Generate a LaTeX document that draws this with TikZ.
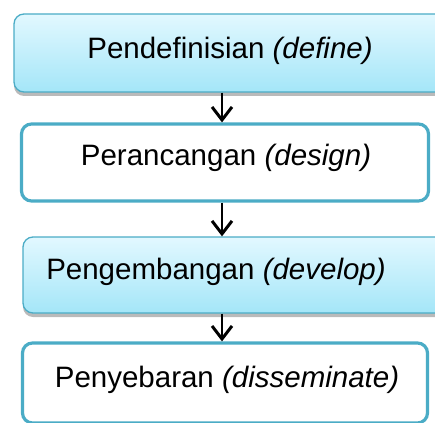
\documentclass[tikz,border=0pt]{standalone}
\usepackage{fontspec}
\setmainfont{Liberation Sans}
\usetikzlibrary{arrows.meta,shadows}
\definecolor{bord}{HTML}{4BACC6}
\definecolor{gtop}{HTML}{E2F8FF}
\definecolor{gbot}{HTML}{A4E6F8}
\tikzset{
  gradbox/.style={draw=bord, line width=1.3pt, rounded corners=10pt,
    top color=gtop, bottom color=gbot,
    drop shadow={shadow xshift=0pt, shadow yshift=-4pt, opacity=0.45, fill=black!60},
    inner sep=0pt},
  whitebox/.style={draw=bord, line width=3.2pt, rounded corners=10pt, fill=white, inner sep=0pt},
  lbl/.style={font=\fontsize{29.5}{34}\selectfont, inner sep=0pt},
  conn/.style={line width=2.4pt, -{Straight Barb[length=13pt,width=20pt,line width=3pt]}}
}
\begin{document}
\begin{tikzpicture}[x=1pt,y=-1pt]
\useasboundingbox (0,0) rectangle (435,422);
\node[gradbox, minimum width=440pt, minimum height=78pt] (b1) at (234,53) {};
\node[whitebox, minimum width=407pt, minimum height=77pt] (b2) at (225,162.5) {};
\node[gradbox, minimum width=430pt, minimum height=76pt] (b3) at (238,275) {};
\node[whitebox, minimum width=405pt, minimum height=80pt] (b4) at (225,383) {};
\node[lbl] (t1) at (230,51) {Pendefinisian \textit{(define)}};
\node[lbl] (t2) at (226,158) {Perancangan \textit{(design)}};
\node[lbl] (t3) at (216,272) {Pengembangan \textit{(develop)}};
\node[lbl] (t4) at (227,380) {Penyebaran \textit{(disseminate)}};
\draw[conn] (b1.south -| 222,0) -- (b2.north -| 222,0);
\draw[conn] (b2.south -| 222,0) -- (b3.north -| 222,0);
\draw[conn] (b3.south -| 222,0) -- (b4.north -| 222,0);
\end{tikzpicture}
\end{document}
